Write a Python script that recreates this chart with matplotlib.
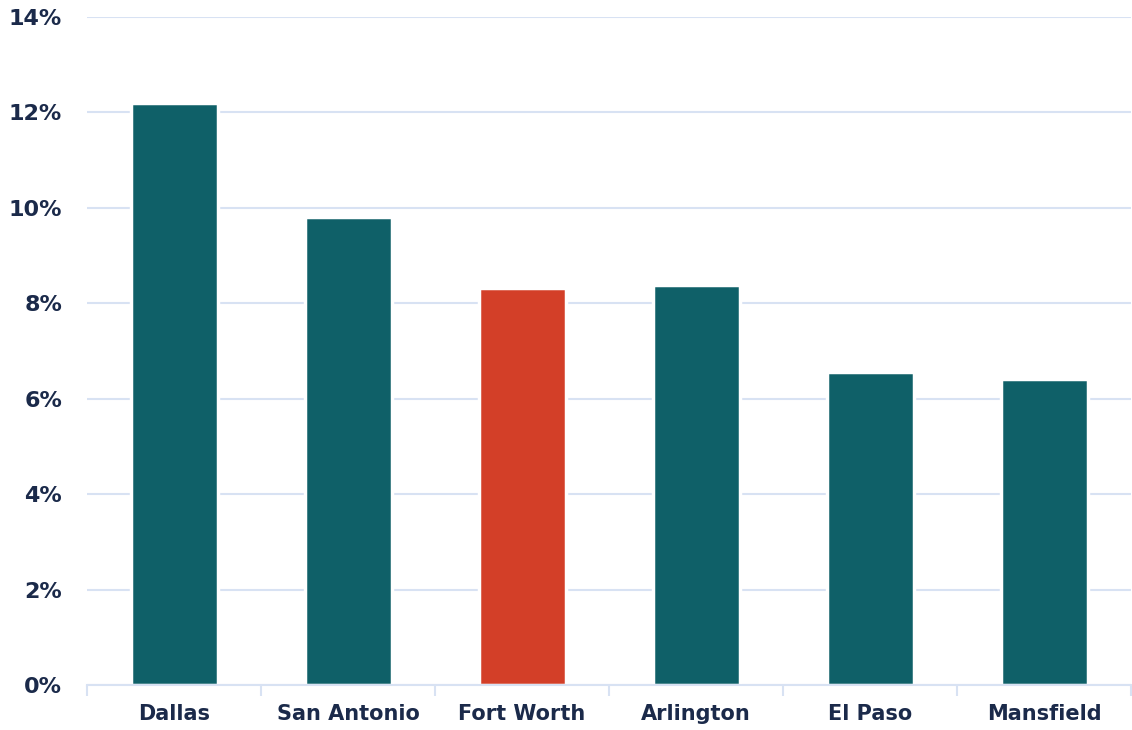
import numpy as np
import matplotlib
matplotlib.use("Agg")
import matplotlib.pyplot as plt
from matplotlib.ticker import FuncFormatter

# data
cities = ["Dallas", "San Antonio", "Fort Worth", "Arlington", "El Paso", "Mansfield"]
values = [12.19, 9.81, 8.31, 8.39, 6.55, 6.42]
highlight = "Fort Worth"

teal = "#0f6068"
red = "#d33f28"
navy = "#1b2a4a"
grid_c = "#d8e2f3"

plt.rcParams["font.family"] = ["DejaVu Sans"]

fig = plt.figure(figsize=(11.32, 7.30), dpi=100)
ax = fig.add_axes([87 / 1132, 45 / 730, (1131 - 87) / 1132, (685 - 17) / 730])

x = np.arange(len(cities))
colors = [red if c == highlight else teal for c in cities]
ax.bar(x, values, width=0.5, color=colors, edgecolor="white", linewidth=2.5, zorder=3)

ax.set_xlim(-0.5, len(cities) - 0.5)
ax.set_ylim(0, 14)
ax.set_yticks(np.arange(0, 15, 2))
ax.yaxis.set_major_formatter(FuncFormatter(lambda v, p: f"{v:.0f}%"))
ax.grid(axis="y", color=grid_c, linewidth=1.5, zorder=0)

ax.set_xticks(x)
ax.set_xticklabels(cities)
ax.set_xticks(np.arange(-0.5, len(cities)), minor=True)
ax.tick_params(axis="x", which="major", length=0, pad=14, labelsize=15, labelcolor=navy)
ax.tick_params(axis="x", which="minor", length=8, width=1.5, color=grid_c)
ax.tick_params(axis="y", length=0, pad=18, labelsize=16, labelcolor=navy)
for lab in ax.get_xticklabels() + ax.get_yticklabels():
    lab.set_fontweight("bold")

for s in ["top", "right", "left"]:
    ax.spines[s].set_visible(False)
ax.spines["bottom"].set_color(grid_c)
ax.spines["bottom"].set_linewidth(1.5)
ax.spines["bottom"].set_zorder(4)

fig.savefig("out.png", dpi=100)
